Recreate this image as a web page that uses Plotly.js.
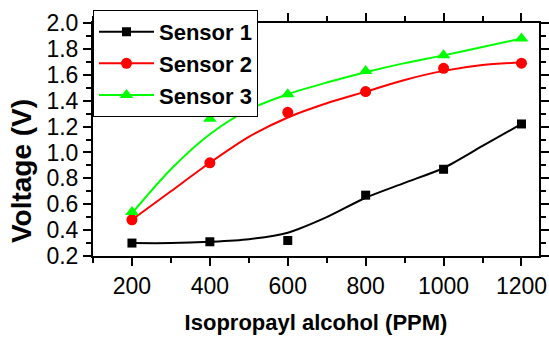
<!DOCTYPE html>
<html>
<head>
<meta charset="utf-8">
<script src="https://cdn.plot.ly/plotly-3.0.1.min.js"></script>
<style>html,body{margin:0;padding:0;background:#fff;}#chart{width:549px;height:340px;}</style>
</head>
<body>
<div id="chart"></div>
<script>
// Measured data points
var ppm = [200, 400, 600, 800, 1000, 1200];
var sensor1 = [0.30, 0.31, 0.32, 0.67, 0.87, 1.22];
var sensor2 = [0.48, 0.92, 1.31, 1.47, 1.65, 1.69];
var sensor3 = [0.54, 1.26, 1.45, 1.63, 1.75, 1.88];

// Fitted curves
var fitPpm = [200, 300, 400, 500, 600, 700, 800, 900, 1000, 1100, 1200];
var fit1 = [0.30, 0.30, 0.31, 0.33, 0.38, 0.50, 0.65, 0.765, 0.88, 1.05, 1.22];
var fit2 = [0.48, 0.70, 0.92, 1.12, 1.27, 1.38, 1.47, 1.56, 1.63, 1.675, 1.695];
var fit3 = [0.53, 0.87, 1.14, 1.33, 1.45, 1.54, 1.62, 1.69, 1.75, 1.815, 1.88];

var names = ['Sensor 1', 'Sensor 2', 'Sensor 3'];
var xTitle = 'Isopropayl alcohol (PPM)';
var yTitle = 'Voltage (V)';

var colors = ['#000000', '#ff0000', '#00ff00'];
var symbols = ['square', 'circle', 'triangle-up'];
var sizes = [9, 11, 12];
var pts = [sensor1, sensor2, sensor3];
var fits = [fit1, fit2, fit3];

var font = 'Liberation Sans, Arial, sans-serif';
var traces = [];
for (var i = 0; i < 3; i++) {
  traces.push({x: fitPpm, y: fits[i], mode: 'lines', line: {color: colors[i], width: 2, shape: 'spline', smoothing: 0.8}, showlegend: false, hoverinfo: 'skip'});
  traces.push({x: ppm, y: pts[i], mode: 'markers', marker: {color: colors[i], symbol: symbols[i], size: sizes[i]}, showlegend: false});
}
for (var j = 0; j < 3; j++) {
  traces.push({x: [null], y: [null], name: names[j], mode: 'lines+markers', line: {color: colors[j], width: 2}, marker: {color: colors[j], symbol: symbols[j], size: sizes[j]}});
}

var axisCommon = {
  showline: true, linecolor: '#000', linewidth: 2, mirror: 'ticks',
  ticks: 'outside', ticklen: 8, tickwidth: 2, tickcolor: '#000',
  showgrid: false, zeroline: false,
  tickfont: {family: font, size: 23, color: '#000'}
};

var layout = {
  width: 549, height: 340,
  margin: {l: 93, r: 10, t: 23, b: 84},
  paper_bgcolor: '#fff', plot_bgcolor: '#fff',
  xaxis: Object.assign({}, axisCommon, {
    range: [100, 1245], tickmode: 'array', tickvals: ppm,
    minor: {dtick: 100, tick0: 100, ticklen: 5, tickwidth: 2, tickcolor: '#000', ticks: 'outside'},
    title: {text: xTitle, font: {family: font, size: 22, weight: 'bold', color: '#000'}, standoff: 17}
  }),
  yaxis: Object.assign({}, axisCommon, {
    range: [0.2, 2.0], dtick: 0.2, tick0: 0.2, tickformat: '.1f',
    minor: {dtick: 0.1, tick0: 0.2, ticklen: 5, tickwidth: 2, tickcolor: '#000', ticks: 'outside'}
  }),
  legend: {
    x: 0, y: 1.056, xanchor: 'left', yanchor: 'top',
    bgcolor: '#fff', bordercolor: '#000', borderwidth: 1,
    font: {family: font, size: 22, weight: 'bold', color: '#000'},
    itemwidth: 55, tracegroupgap: 0
  },
  annotations: [{
    text: yTitle, textangle: -90, xref: 'paper', yref: 'paper',
    x: -0.159, y: 0.365, xanchor: 'center', yanchor: 'middle', showarrow: false,
    font: {family: font, size: 28, weight: 'bold', color: '#000'}
  }],
  showlegend: true
};

Plotly.newPlot('chart', traces, layout, {displayModeBar: false, staticPlot: true});
</script>
</body>
</html>
